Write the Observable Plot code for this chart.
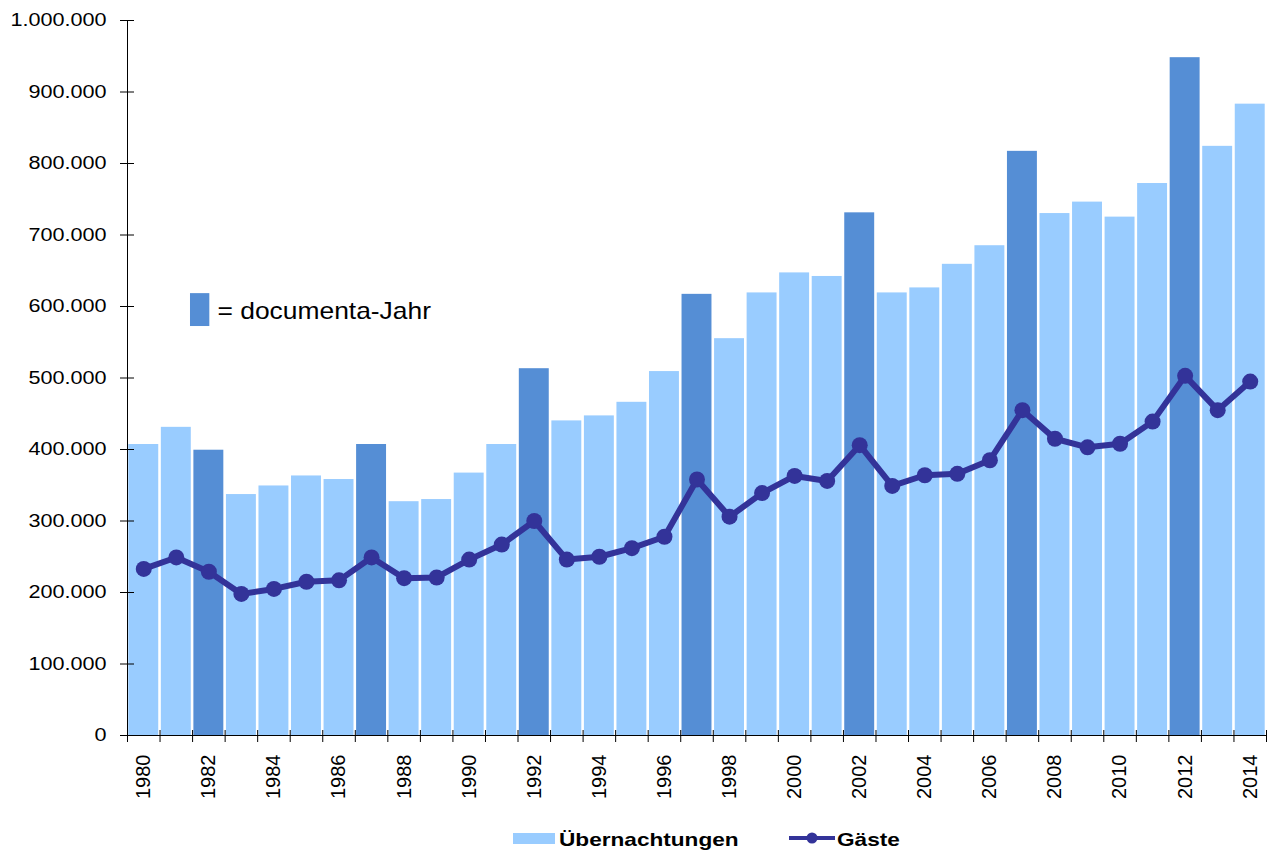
<!DOCTYPE html>
<html>
<head>
<meta charset="utf-8">
<script src="https://cdn.jsdelivr.net/npm/d3@7"></script>
<script src="https://cdn.jsdelivr.net/npm/@observablehq/plot@0.6"></script>
<style>
  body { margin: 0; background: #fff; font-family: "Liberation Sans", Arial, sans-serif; }
  #chart svg { display: block; }
  #legend { position: relative; width: 1271px; height: 41px; }
  #legend .sw { position: absolute; left: 513px; top: 18px; width: 42px; height: 11px; background: #99CCFF; }
  #legend .lbl { position: absolute; font-weight: bold; font-size: 19px; line-height: 19px; color: #000;
                 transform: scaleX(1.19); transform-origin: left center; white-space: nowrap; }
  #legend svg { position: absolute; left: 786px; top: 15px; }
</style>
</head>
<body>
<div id="chart"></div>
<div id="legend">
  <div class="sw"></div>
  <span class="lbl" style="left:559px; top:15px;">Übernachtungen</span>
  <svg width="52" height="16"><line x1="3" y1="8" x2="49" y2="8" stroke="#333399" stroke-width="4"/><circle cx="26" cy="8" r="5.5" fill="#333399"/></svg>
  <span class="lbl" style="left:837px; top:15px;">Gäste</span>
</div>
<script>
// ---- data ----
const years = [1980,1981,1982,1983,1984,1985,1986,1987,1988,1989,1990,1991,1992,1993,1994,1995,1996,1997,1998,1999,2000,2001,2002,2003,2004,2005,2006,2007,2008,2009,2010,2011,2012,2013,2014];
const uebernachtungen = [407000,431000,399000,337000,349000,363000,358000,407000,327000,330000,367000,407000,513000,440000,447000,466000,509000,617000,555000,619000,647000,642000,731000,619000,626000,659000,685000,817000,730000,746000,725000,772000,948000,824000,883000];
const gaeste = [233000,249000,229000,198000,205000,215000,217000,249000,220000,221000,246000,267000,300000,246000,250000,262000,278000,358000,306000,339000,363000,356000,406000,349000,364000,366000,385000,455000,415000,403000,408000,439000,503000,455000,495000];
const documentaYears = [1982,1987,1992,1997,2002,2007,2012];
const yTicks = [0,100000,200000,300000,400000,500000,600000,700000,800000,900000,1000000];
const xLabelYears = [1980,1982,1984,1986,1988,1990,1992,1994,1996,1998,2000,2002,2004,2006,2008,2010,2012,2014];
const annotationText = "= documenta-Jahr";
const annotationYear = 1982;
const annotationSwatch = [572000, 618000];
const annotationY = 593000;

// ---- build ----
const rows = years.map((y, i) => ({year: y, nights: uebernachtungen[i], guests: gaeste[i], documenta: documentaYears.includes(y)}));
const fmt = d3.formatLocale({decimal: ",", thousands: ".", grouping: [3], currency: ["", " €"]}).format(",");

const W = 1271, H = 815, ML = 127, MR = 5, MT = 20, MB = 80;
const padIn = 0.08, padOut = 0.04;
const step = (W - ML - MR) / (years.length - padIn + 2 * padOut);

const LIGHT = "#99CCFF", DARK = "#558ED5", NAVY = "#333399";

const plot = Plot.plot({
  width: W, height: H,
  marginLeft: ML, marginRight: MR, marginTop: MT, marginBottom: MB,
  style: {fontFamily: '"Liberation Sans", Arial, sans-serif', fontSize: "18px", color: "#000", background: "#fff"},
  x: {type: "band", domain: years, paddingInner: padIn, paddingOuter: padOut, round: false, axis: null, label: null},
  y: {domain: [0, 1000000], axis: null, label: null},
  marks: [
    Plot.barY(rows, {x: "year", y: "nights", fill: d => d.documenta ? DARK : LIGHT}),
    Plot.barY([annotationSwatch], {x: () => annotationYear, y1: d => d[0], y2: d => d[1], fill: DARK, insetLeft: -3.4, insetRight: 14}),
    Plot.text([annotationText], {x: () => annotationYear, y: () => annotationY, text: d => d, textAnchor: "start", dx: 8.6, fontSize: 24, fill: "#000"}),
    Plot.line(rows, {x: "year", y: "guests", stroke: NAVY, strokeWidth: 6, curve: "linear"}),
    Plot.dot(rows, {x: "year", y: "guests", r: 8, fill: NAVY, stroke: "none"}),
    Plot.frame({anchor: "left", stroke: "#000"}),
    Plot.frame({anchor: "bottom", stroke: "#000"}),
    Plot.axisY({ticks: yTicks, tickSize: 14, dx: 7, tickFormat: () => "", stroke: "#000", label: null}),
    Plot.axisY({ticks: yTicks, tickSize: 0, tickPadding: 21, tickFormat: fmt, fontSize: 18, label: null}),
    Plot.axisX({ticks: years, tickSize: 12, dy: -5, dx: -step / 2, tickFormat: () => "", stroke: "#000", label: null}),
    Plot.axisX({ticks: [years[years.length - 1]], tickSize: 12, dy: -5, dx: step / 2, tickFormat: () => "", stroke: "#000", label: null}),
    Plot.axisX({ticks: xLabelYears, tickSize: 0, tickPadding: 19, tickRotate: -90, tickFormat: d => String(d), fontSize: 20, label: null})
  ]
});

document.getElementById("chart").append(plot);

function stretch(sel, k) {
  plot.querySelectorAll(sel).forEach(t => {
    const L = t.getComputedTextLength();
    if (L > 0) { t.setAttribute("textLength", L * k); t.setAttribute("lengthAdjust", "spacingAndGlyphs"); }
  });
}
stretch('g[aria-label="y-axis tick label"] text', 1.2);
stretch('g[aria-label="text"] text', 1.1);
</script>
</body>
</html>
